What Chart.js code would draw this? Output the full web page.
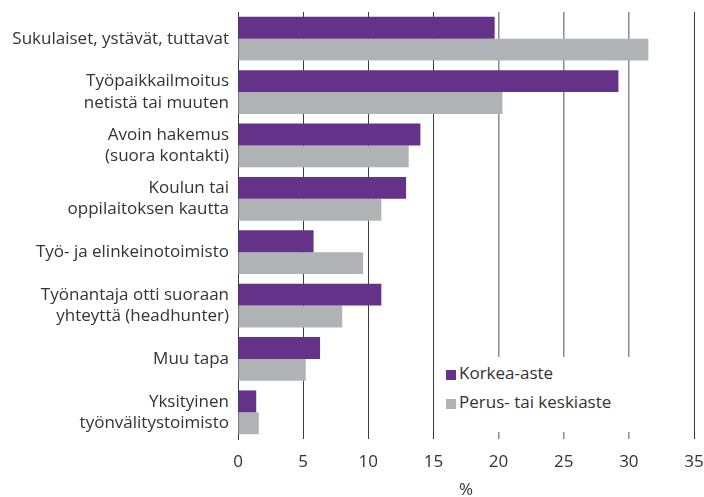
<!DOCTYPE html>
<html>
<head>
<meta charset="utf-8">
<script src="https://cdn.jsdelivr.net/npm/chart.js@4"></script>
<style>
  body { margin: 0; background: #fff; }
  .wrap { position: relative; width: 704px; height: 497px; }
  .legend {
    position: absolute; left: 440px; top: 357px; width: 240px; height: 75px;
    background: #fff; font-family: "Open Sans", sans-serif; font-size: 17px; color: #333;
  }
  .legend .item { position: absolute; left: 6px; height: 20px; line-height: 20px; white-space: nowrap; }
  .legend .box { display: inline-block; width: 10px; height: 10px; margin-right: 3px; vertical-align: -1px; }
</style>
</head>
<body>
<div class="wrap">
  <canvas id="my-chart" width="704" height="497"></canvas>
  <div class="legend" id="legend"></div>
</div>
<script>
const categories = [
  ["Sukulaiset, ystävät, tuttavat"],
  ["Työpaikkailmoitus", "netistä tai muuten"],
  ["Avoin hakemus", "(suora kontakti)"],
  ["Koulun tai", "oppilaitoksen kautta"],
  ["Työ- ja elinkeinotoimisto"],
  ["Työnantaja otti suoraan", "yhteyttä (headhunter)"],
  ["Muu tapa"],
  ["Yksityinen", "työnvälitystoimisto"],
];
const korkeaAste = [19.7, 29.2, 14.0, 12.9, 5.8, 11.0, 6.3, 1.4];
const perusTaiKeski = [31.5, 20.3, 13.1, 11.0, 9.6, 8.0, 5.2, 1.6];
const seriesNames = ["Korkea-aste", "Perus- tai keskiaste"];
const seriesColors = ["#643289", "#b0b3b6"];
const xTicks = [0, 5, 10, 15, 20, 25, 30, 35];

const font = "'Open Sans', sans-serif";

// html legend on white box over the grid
const legend = document.getElementById("legend");
seriesNames.forEach((name, i) => {
  const item = document.createElement("div");
  item.className = "item";
  item.style.top = (6 + i * 29) + "px";
  item.innerHTML = '<span class="box" style="background:' + seriesColors[i] + '"></span>' + name;
  legend.appendChild(item);
});

const canvas = document.getElementById("my-chart");
const chart = new Chart(canvas, {
  type: "bar",
  data: {
    labels: categories,
    datasets: [
      { label: seriesNames[0], data: korkeaAste, backgroundColor: seriesColors[0] },
      { label: seriesNames[1], data: perusTaiKeski, backgroundColor: seriesColors[1] },
    ],
  },
  options: {
    indexAxis: "y",
    responsive: false,
    animation: false,
    layout: { padding: { top: 12, right: 0, left: 0, bottom: 0 } },
    datasets: { bar: { barPercentage: 1, categoryPercentage: 0.82 } },
    plugins: { legend: { display: false }, tooltip: { enabled: false } },
    scales: {
      x: {
        min: 0, max: 35,
        afterBuildTicks: (scale) => { scale.ticks = xTicks.map(v => ({ value: v })); },
        afterFit: (scale) => { scale.height = 58; scale.paddingRight = 10; scale.paddingLeft = 0; },
        border: { display: false },
        grid: {
          color: (ctx) => (ctx.tick && ctx.tick.value >= 20 && ctx.tick.value <= 30) ? "#8c8c8c" : "#3c3c3c",
          lineWidth: (ctx) => (ctx.tick && ctx.tick.value >= 20 && ctx.tick.value <= 30) ? 1.5 : 1,
          drawTicks: false,
        },
        ticks: { color: "#333", font: { family: font, size: 17 }, padding: 13 },
        title: { display: true, text: "%", color: "#333", font: { family: font, size: 17 }, padding: { top: 4, bottom: -3 } },
      },
      y: {
        afterFit: (scale) => { scale.width = 238; scale.paddingTop = 0; scale.paddingBottom = 0; },
        border: { display: true, color: "#3c3c3c" },
        grid: { display: false, drawTicks: false },
        ticks: { color: "#333", font: { family: font, size: 17, lineHeight: 1.25 }, padding: 9 },
      },
    },
  },
});
</script>
</body>
</html>
